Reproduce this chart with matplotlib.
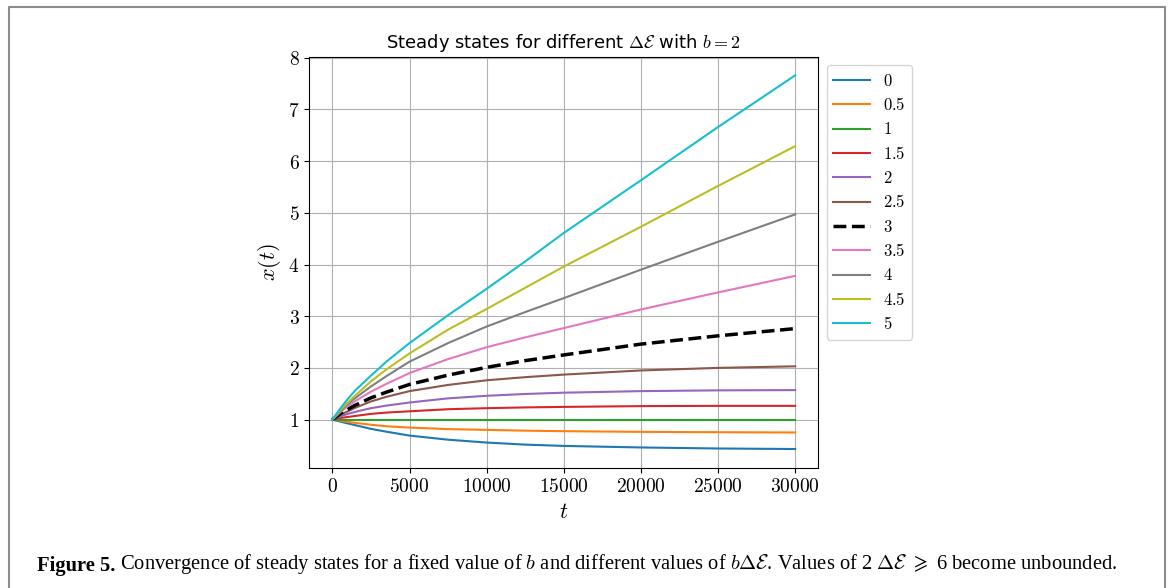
import matplotlib
matplotlib.use('Agg')
import matplotlib.pyplot as plt
from matplotlib.ticker import FuncFormatter
from matplotlib.lines import Line2D

plt.rcParams['mathtext.fontset'] = 'cm'

# time samples
t_vals = [0, 500, 1000, 1500, 2500, 3500, 5000, 7500, 10000, 12500, 15000, 20000, 25000, 30000]

# x(t) for each Delta E
x_0 = [1.00, 0.96, 0.925, 0.89, 0.82, 0.765, 0.69, 0.61, 0.555, 0.515, 0.49, 0.46, 0.44, 0.43]
x_05 = [1.00, 0.975, 0.955, 0.935, 0.90, 0.87, 0.845, 0.815, 0.80, 0.785, 0.775, 0.762, 0.755, 0.75]
x_1 = [1.00] * 14
x_15 = [1.00, 1.03, 1.05, 1.07, 1.11, 1.135, 1.16, 1.20, 1.22, 1.235, 1.245, 1.26, 1.265, 1.265]
x_2 = [1.00, 1.06, 1.11, 1.15, 1.22, 1.27, 1.33, 1.41, 1.46, 1.495, 1.52, 1.55, 1.565, 1.57]
x_25 = [1.00, 1.09, 1.16, 1.23, 1.35, 1.44, 1.55, 1.67, 1.76, 1.82, 1.87, 1.95, 2.00, 2.03]
x_3 = [1.00, 1.11, 1.20, 1.28, 1.42, 1.53, 1.68, 1.86, 2.01, 2.14, 2.25, 2.46, 2.62, 2.76]
x_35 = [1.00, 1.14, 1.26, 1.36, 1.54, 1.69, 1.90, 2.17, 2.40, 2.59, 2.77, 3.13, 3.46, 3.78]
x_4 = [1.00, 1.16, 1.30, 1.42, 1.64, 1.84, 2.12, 2.48, 2.80, 3.08, 3.35, 3.90, 4.44, 4.97]
x_45 = [1.00, 1.18, 1.33, 1.47, 1.74, 1.97, 2.28, 2.74, 3.14, 3.55, 3.96, 4.73, 5.52, 6.29]
x_5 = [1.00, 1.21, 1.40, 1.57, 1.85, 2.12, 2.48, 3.02, 3.53, 4.06, 4.61, 5.63, 6.66, 7.66]

labels = ["0", "0.5", "1", "1.5", "2", "2.5", "3", "3.5", "4", "4.5", "5"]
series = [x_0, x_05, x_1, x_15, x_2, x_25, x_3, x_35, x_4, x_45, x_5]
colors = ["tab:blue", "tab:orange", "tab:green", "tab:red", "tab:purple", "tab:brown",
          "black", "tab:pink", "tab:gray", "tab:olive", "tab:cyan"]

fig = plt.figure(figsize=(11.71, 5.88), dpi=100)
ax = fig.add_axes([0.2641, 0.2046, 0.4347, 0.699])

for lab, ys, col in zip(labels, series, colors):
    if lab == "3":
        ax.plot(t_vals, ys, '--', color=col, lw=2.5, label="$" + lab + "$")
    else:
        ax.plot(t_vals, ys, color=col, lw=1.5, label="$" + lab + "$")

ax.grid(True)
ax.set_yticks([1, 2, 3, 4, 5, 6, 7, 8])
ax.set_xticks([0, 5000, 10000, 15000, 20000, 25000, 30000])
mathfmt = FuncFormatter(lambda v, p: "$%g$" % v)
ax.xaxis.set_major_formatter(mathfmt)
ax.yaxis.set_major_formatter(mathfmt)
ax.tick_params(labelsize=14)
ax.set_title(r"Steady states for different $\Delta\mathcal{E}$ with $b=2$", fontsize=13)
ax.set_xlabel("$t$", fontsize=16)
ax.set_ylabel("$x(t)$", fontsize=16)
ax.legend(loc='upper left', bbox_to_anchor=(1, 1), fontsize=12, labelspacing=0.38,
          handlelength=2.2)

# frame around the figure panel
fig.add_artist(Line2D([9 / 1171, 9 / 1171, 1165 / 1171, 1165 / 1171],
                      [0, 1 - 7 / 588, 1 - 7 / 588, 0],
                      transform=fig.transFigure, color='#8c8c8c', lw=1.5))

# caption
cap1 = fig.text(37 / 1171, 1 - 571 / 588, "Figure 5.", fontsize=14.8, fontweight='bold',
                family='Liberation Serif', va='baseline')
ax.annotate(r" Convergence of steady states for a fixed value of $b$ and different values of "
            r"$b\Delta\mathcal{E}$. Values of 2 $\Delta\mathcal{E}$ $\geqslant$ 6 become unbounded.",
            xy=(1, 0), xycoords=cap1, va='bottom', ha='left', fontsize=14.8,
            family='Liberation Serif', annotation_clip=False)

fig.savefig("out.png", dpi=100)
